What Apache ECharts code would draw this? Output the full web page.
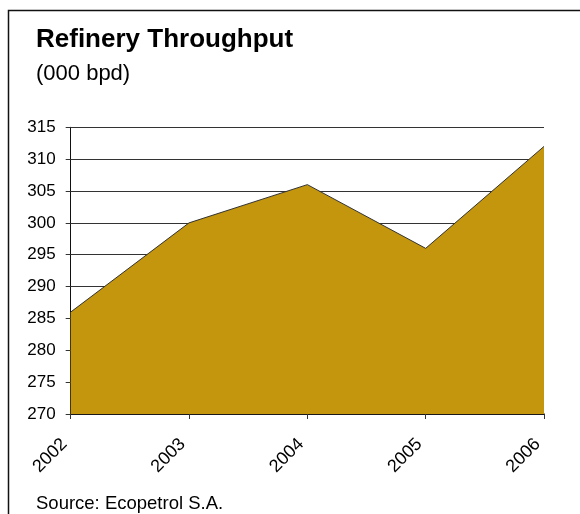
<!DOCTYPE html>
<html>
<head>
<meta charset="utf-8">
<style>
  html, body { margin: 0; padding: 0; background: #fff; }
  #chart { width: 580px; height: 514px; }
</style>
<script src="https://cdn.jsdelivr.net/npm/echarts@6/dist/echarts.min.js"></script>
</head>
<body>
<div id="chart"></div>
<script>
// Refinery throughput by year, thousand barrels per day
const years = ['2002', '2003', '2004', '2005', '2006'];
const throughput = [286, 300, 306, 296, 312];
const yTicks = { min: 270, max: 315, step: 5 };

const FONT = '"Liberation Sans", Arial, sans-serif';
const chart = echarts.init(document.getElementById('chart'), null, { renderer: 'canvas' });

chart.setOption({
  animation: false,
  backgroundColor: '#ffffff',
  graphic: [
    {
      type: 'rect',
      shape: { x: 8.5, y: 10.5, width: 700, height: 700 },
      style: { fill: 'none', stroke: '#111', lineWidth: 1.5 },
      silent: true
    },
    {
      type: 'text', left: 36, top: 27,
      style: { text: 'Refinery Throughput', font: 'bold 26px ' + FONT, fill: '#000' }
    },
    {
      type: 'text', left: 36, top: 63,
      style: { text: '(000 bpd)', font: '22px ' + FONT, fill: '#000' }
    },
    {
      type: 'text', left: 36, top: 494,
      style: { text: 'Source: Ecopetrol S.A.', font: '18.5px ' + FONT, fill: '#000' }
    }
  ],
  grid: { left: 70.7, right: 36, top: 127.3, bottom: 100, containLabel: false },
  xAxis: {
    type: 'category',
    data: years,
    boundaryGap: false,
    axisLine: { show: true, lineStyle: { color: '#111', width: 1.5 } },
    axisTick: { show: true, length: 5, inside: false, alignWithLabel: true, lineStyle: { color: '#333' } },
    axisLabel: { rotate: 45, margin: 21, padding: [0, 9, 0, 0], color: '#000', fontFamily: FONT, fontSize: 18 },
    splitLine: { show: false }
  },
  yAxis: {
    type: 'value',
    min: yTicks.min,
    max: yTicks.max,
    interval: yTicks.step,
    axisLine: { show: true, lineStyle: { color: '#111', width: 1 } },
    axisTick: { show: true, length: 5, lineStyle: { color: '#333' } },
    axisLabel: { margin: 15, color: '#000', fontFamily: FONT, fontSize: 17 },
    splitLine: { show: true, lineStyle: { color: '#333', width: 1 } }
  },
  series: [{
    type: 'line',
    data: throughput,
    symbol: 'none',
    lineStyle: { color: '#333', width: 1 },
    areaStyle: { color: '#C4960E', opacity: 1, origin: 'start' },
    z: 3
  }]
});
</script>
</body>
</html>
